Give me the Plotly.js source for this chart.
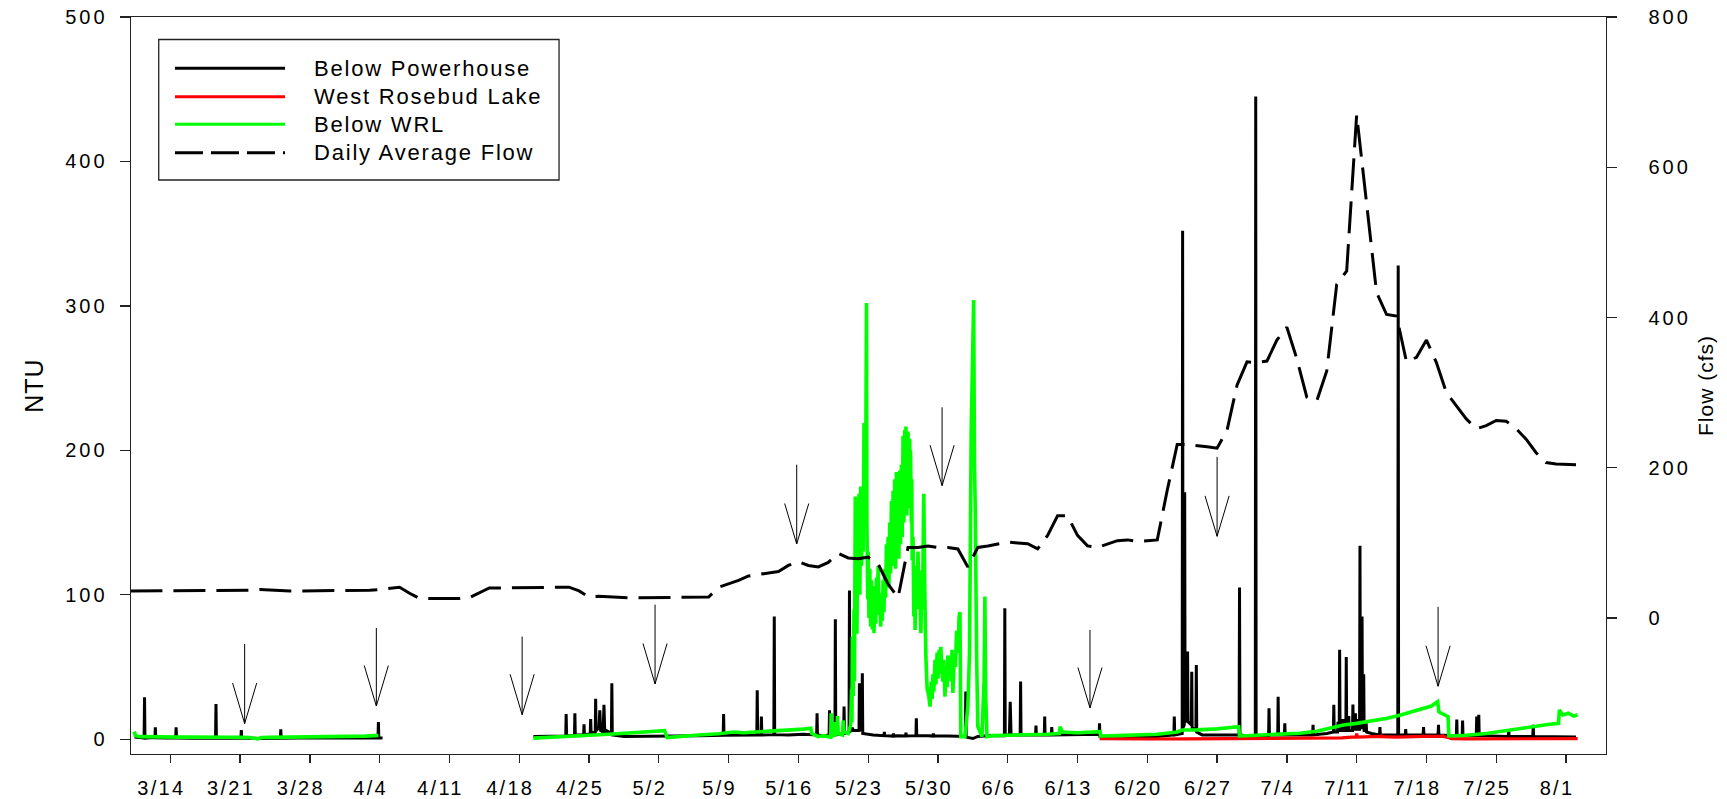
<!DOCTYPE html>
<html><head><meta charset="utf-8">
<script src="https://cdn.plot.ly/plotly-3.0.1.min.js"></script>
<style>
html,body{margin:0;padding:0;background:#fff;}
#chart{width:1727px;height:799px;}
.xtick text{letter-spacing:2.3px;}
.ytick text,.y2tick text{letter-spacing:3px;}
.annotation-text{letter-spacing:1.8px;}
.g-ytitle text,.g-y2title text{letter-spacing:1px;}
</style></head><body><div id="chart"></div>
<script>
const YEAR = '2005';

// Below Powerhouse turbidity (NTU)  [MM-DD HH, value]
const belowPowerhouse = [
["03-10 10",1.5],["03-11 00",0.8],["03-11 09",0.8],["03-11 10",29],["03-11 11",0.8],["03-12 00",1.0],["03-12 11",1.0],["03-12 12",8.3],["03-12 13",1.0],
["03-13 12",0.8],["03-14 13",0.8],["03-14 14",8.3],["03-14 15",0.8],["03-16 00",0.7],["03-17 12",0.9],["03-18 13",0.8],["03-18 14",24.4],["03-18 15",0.8],
["03-20 00",0.7],["03-21 02",0.8],["03-21 03",6.4],["03-21 04",0.8],["03-23 00",0.6],["03-25 01",0.7],["03-25 02",6.9],["03-25 03",0.7],["03-27 00",0.8],
["03-29 00",0.9],["03-31 00",0.8],["04-02 00",0.9],["04-03 20",1.0],["04-03 21",12],["04-03 22",1.0],["04-04 07",0.8],["04-10 00",null],
["04-19 10",2],["04-20 12",2.2],["04-21 12",2],["04-22 16",2.2],["04-22 17",17.5],["04-22 18",2.5],["04-23 13",2.5],["04-23 14",18],["04-23 15",3],
["04-24 11",3],["04-24 12",10.4],["04-24 13",3],["04-25 03",4],["04-25 04",14],["04-25 05",5],["04-25 15",4],["04-25 16",28],["04-25 17",6],["04-26 00",8],
["04-26 02",20],["04-26 04",6],["04-26 10",5],["04-26 12",23.8],["04-26 14",4],["04-26 18",6],["04-27 06",4],["04-27 07",38.8],["04-27 08",3],["04-28 12",2],
["04-30 00",2],["05-02 00",2.2],["05-04 00",2],["05-06 00",2.5],["05-08 11",2.8],["05-08 12",17.5],["05-08 13",2.8],["05-10 00",3],["05-11 20",3],["05-11 21",34],
["05-11 22",3],["05-12 06",3],["05-12 07",15.7],["05-12 08",3],["05-13 13",3.2],["05-13 14",85],["05-13 15",3.2],["05-15 00",3],["05-16 12",3.5],["05-17 20",3],
["05-17 21",18],["05-17 22",3],["05-18 12",2.5],["05-19 02",3],["05-19 03",20],["05-19 04",3],["05-19 16",3],["05-19 17",83],["05-19 18",3],["05-20 13",4],
["05-20 14",22.6],["05-20 15",4],["05-21 02",5],["05-21 03",103],["05-21 04",5],["05-21 10",8],["05-21 12",6],["05-22 02",6],["05-22 03",38.8],["05-22 05",8],
["05-22 09",6],["05-22 10",45.7],["05-22 11",4],["05-23 12",3],["05-24 14",2.5],["05-24 15",5],["05-24 16",2.5],["05-25 12",2.2],["05-25 13",4],["05-25 14",2.2],
["05-26 00",2.5],["05-26 18",2.3],["05-26 19",4.5],["05-26 20",2.3],["05-27 19",2.5],["05-27 20",14.5],["05-27 21",2.5],["05-29 00",2.5],["05-29 12",2.2],["05-29 13",4],
["05-29 14",2.2],["05-31 00",2.2],["06-01 18",2],["06-01 19",33],["06-01 20",1.5],["06-02 12",0.5],["06-03 00",2],["06-04 00",2.5],["06-05 16",2.5],
["06-05 17",90.7],["06-05 18",3],["06-06 04",3],["06-06 06",26],["06-06 08",3],["06-07 06",3],["06-07 07",40],["06-07 08",3],["06-08 19",3],["06-08 20",9.4],
["06-08 21",3],["06-09 16",3],["06-09 17",15.7],["06-09 18",3],["06-10 09",3],["06-10 10",8.5],["06-10 11",3],["06-12 00",3],["06-14 00",3.2],["06-15 04",3.5],
["06-15 05",11],["06-15 06",2],["06-17 00",1.5],["06-19 00",1.5],["06-21 00",2],["06-22 16",3],["06-22 17",15.7],["06-22 18",3],["06-23 12",4],["06-23 13",352],
["06-23 14",8],["06-23 17",10],["06-23 18",171],["06-23 19",12],["06-24 00",14],["06-24 01",60.7],["06-24 02",12],["06-24 10",10],["06-24 11",46.8],["06-24 12",8],
["06-24 21",6],["06-24 22",51.4],["06-24 23",5],["06-25 12",3],["06-27 00",3],["06-29 05",3],["06-29 06",105],["06-29 07",3],["06-30 00",2.5],["06-30 20",2.5],
["06-30 21",445],["06-30 22",2.5],["07-01 12",2.5],["07-02 04",2.5],["07-02 05",21.5],["07-02 06",3],["07-03 02",3],["07-03 03",29.5],["07-03 04",3],["07-03 18",3],
["07-03 19",11],["07-03 20",3],["07-05 00",3],["07-06 14",3],["07-06 15",10],["07-06 16",3],["07-08 00",4],["07-08 16",5],["07-08 17",23.8],["07-08 18",5],
["07-09 02",5],["07-09 03",12],["07-09 04",6],["07-09 06",6],["07-09 07",62],["07-09 08",6],["07-09 14",6],["07-09 15",14],["07-09 16",6],["07-09 22",6],["07-09 23",57],
["07-10 00",6],["07-10 04",6],["07-10 05",16],["07-10 06",6],["07-10 14",6],["07-10 15",24],["07-10 16",7],["07-10 20",7],["07-10 21",18],["07-10 22",7],
["07-11 03",7],["07-11 04",14],["07-11 05",7],["07-11 07",7],["07-11 08",134],["07-11 09",8],["07-11 12",8],["07-11 13",85],["07-11 14",8],["07-11 16",8],
["07-11 17",45],["07-11 18",6],["07-11 22",6],["07-11 23",11],["07-12 00",5],["07-12 12",4],["07-13 07",3],["07-13 08",8.5],["07-13 09",3],["07-14 12",3],
["07-15 03",3],["07-15 04",328],["07-15 05",3],["07-15 21",3],["07-15 22",7],["07-15 23",3],["07-17 16",3],
["07-17 17",8.5],["07-17 18",3],["07-19 04",3],["07-19 05",10],["07-19 06",3],["07-20 12",2.5],["07-21 00",2.5],["07-21 01",13.6],["07-21 02",2.5],["07-21 14",2.5],
["07-21 15",13],["07-21 16",2.5],["07-23 00",2.5],["07-23 01",15.7],["07-23 02",2.5],["07-23 05",2.5],["07-23 06",17],["07-23 07",2.5],["07-25 00",2],["07-26 05",2],
["07-26 06",7],["07-26 07",2],["07-28 16",2],["07-28 17",10],["07-28 18",2],["07-30 00",2],["08-01 00",1.5],["08-02 00",1.5]
];

// West Rosebud Lake turbidity (NTU)
const westRosebudLake = [
["06-15 05",0.5],["06-17 00",0.3],["06-20 00",0.2],["06-24 00",0.3],["06-27 00",0.4],["06-30 00",0.3],["07-03 00",0.4],["07-06 00",0.5],["07-08 00",0.8],
["07-09 12",1.0],["07-10 12",1.5],["07-10 23",1.5],["07-11 00",4],["07-11 02",1.5],["07-12 12",1.8],["07-13 11",1.8],["07-13 12",3],["07-13 13",1.8],
["07-15 00",1.5],["07-16 00",1.8],["07-17 14",2],["07-17 15",3],["07-17 16",2],["07-18 12",2],["07-19 14",2.2],["07-19 15",3.2],["07-19 16",2],
["07-20 06",1.0],["07-20 12",0.5],["07-22 00",0.3],["07-25 00",0.3],["07-28 00",0.4],["07-31 00",0.4],["08-02 04",0.4]
];

// Below WRL turbidity (NTU)
const belowWRL = [
["03-10 09",5.3],["03-10 12",2.5],["03-11 00",1.8],["03-12 00",1.6],["03-13 00",1.5],["03-14 00",1.6],["03-15 00",1.5],["03-16 00",1.6],["03-17 00",1.4],
["03-18 00",1.5],["03-19 00",1.5],["03-20 00",1.4],["03-21 00",1.3],["03-22 00",1.2],["03-22 18",0.3],["03-23 04",1.2],["03-24 00",1.3],["03-26 00",1.4],
["03-28 00",1.6],["03-30 00",1.8],["04-01 00",2.0],["04-02 12",2.2],["04-03 12",2.5],["04-03 21",2.6],["04-10 00",null],
["04-19 10",0.8],["04-21 00",1.2],["04-23 00",2.0],["04-25 00",2.8],["04-27 00",3.5],["04-29 00",4.2],["05-01 00",5.0],["05-02 14",6.0],
["05-02 20",1.2],["05-04 00",2.0],["05-06 00",3.0],["05-08 00",3.8],["05-09 12",5.0],["05-10 12",4.5],["05-12 00",5.0],["05-14 00",6.0],["05-15 12",6.5],
["05-16 12",7.0],["05-17 06",7.6],["05-17 08",4.1],["05-18 00",1.8],["05-18 12",2.5],["05-19 06",1.5],["05-19 07",18],["05-19 09",3],["05-19 14",2],
["05-19 15",12],["05-19 17",4],["05-19 21",3],["05-19 22",16],["05-20 00",4],["05-20 10",3],["05-20 12",13],["05-20 14",5],["05-21 00",4],
["05-21 06",10],["05-21 08",35],["05-21 09",12],["05-21 10",71],["05-21 12",30],["05-21 14",90],["05-21 15",40],["05-21 17",168],["05-21 19",95],["05-21 21",73],
["05-21 23",160],["05-22 01",110],["05-22 02",170],["05-22 04",100],["05-22 06",175],["05-22 08",120],["05-22 10",165],["05-22 12",130],["05-22 14",219],
["05-22 16",150],["05-22 18",180],["05-22 20",302],["05-22 21",150],["05-22 23",97],["05-23 00",130],["05-23 02",84],["05-23 04",118],["05-23 06",78],["05-23 08",110],
["05-23 10",76],["05-23 12",106],["05-23 14",73.5],["05-23 16",95],["05-23 18",80],["05-23 20",112],["05-23 22",86],["05-24 00",120],["05-24 02",92],
["05-24 04",101],["05-24 06",78],["05-24 08",95],["05-24 10",82],["05-24 12",110],["05-24 14",88],["05-24 16",118],["05-24 18",98],["05-24 20",135],
["05-24 22",110],["05-25 00",140],["05-25 02",105],["05-25 04",150],["05-25 06",115],["05-25 08",165],["05-25 10",120],["05-25 12",172],["05-25 14",125],
["05-25 16",180],["05-25 18",118],["05-25 20",185],["05-25 22",130],["05-26 00",182],["05-26 02",125],["05-26 04",186],["05-26 06",135],["05-26 08",190],
["05-26 10",140],["05-26 12",210],["05-26 14",150],["05-26 16",214],["05-26 18",160],["05-26 19",216.5],["05-26 21",155],["05-27 00",213],["05-27 02",160],
["05-27 04",208],["05-27 05",175],["05-27 06",200],["05-27 08",150],["05-27 09",180],["05-27 10",124],["05-27 12",140],["05-27 14",85],["05-27 16",110],
["05-27 17",75.7],["05-27 19",120],["05-27 21",90],["05-28 00",130],["05-28 02",95],["05-28 04",117],["05-28 06",80],["05-28 07",73.4],["05-28 09",110],
["05-28 11",90],["05-28 13",150],["05-28 14",170],["05-28 16",110],["05-28 18",70],["05-28 19",57],["05-28 22",35],["05-29 02",30],["05-29 05",22.6],
["05-29 08",40],["05-29 10",28],["05-29 12",45],["05-29 14",33],["05-29 17",55],["05-29 19",38],["05-29 22",60],["05-30 00",42],["05-30 03",62],
["05-30 05",45],["05-30 07",64],["05-30 09",48],["05-30 12",40],["05-30 14",55],["05-30 17",29.5],["05-30 19",48],["05-30 22",36],["05-31 00",58],
["05-31 03",45],["05-31 05",57],["05-31 08",40],["05-31 10",62],["05-31 12",32],["05-31 15",55],["05-31 18",50],["05-31 21",75],["06-01 00",60],
["06-01 03",85],["06-01 05",88],["06-01 06",50],["06-01 07",1.8],["06-01 12",1.8],["06-01 17",1.8],["06-02 00",22.6],["06-02 04",60],["06-02 08",212],
["06-02 14",304],["06-02 16",190],["06-02 18",156],["06-02 21",60],["06-03 00",8.7],["06-03 10",1.8],["06-03 15",40],["06-03 17",98.8],["06-03 19",30],
["06-03 22",1.8],["06-04 12",2.5],["06-06 00",2.8],["06-08 00",3.0],["06-10 00",3.5],["06-11 04",4],["06-11 06",8.7],["06-11 12",5],["06-13 00",4.5],
["06-15 06",5.3],["06-15 08",2.3],["06-17 00",2.5],["06-19 00",3.0],["06-21 00",3.5],["06-23 00",5],["06-23 12",6.4],["06-25 00",6.5],["06-27 00",7.2],
["06-29 04",8.7],["06-29 06",2.3],["07-01 00",2.8],["07-03 00",3.5],["07-05 06",4.2],["07-07 00",5.5],["07-09 16",9.9],["07-11 00",11],["07-12 12",12.5],
["07-14 02",14.5],["07-15 12",17],["07-17 00",20],["07-18 12",23],["07-19 03",26],["07-19 06",19],["07-19 12",18],["07-20 04",15.7],["07-20 06",2.3],
["07-22 00",2.8],["07-24 00",4],["07-26 06",6.4],["07-28 16",8.7],["07-30 00",10],["07-31 06",11],["07-31 08",20.3],["07-31 16",16.8],["08-01 06",18],
["08-01 18",16],["08-02 04",17]
];

// Daily average flow (cfs)
const dailyFlow = [
["03-10",36],["03-11",36],["03-12",36],["03-13",36],["03-14",36],["03-15",36],["03-16",36],["03-17",36],["03-18",36],["03-19",36],["03-20",36],
["03-21",36],["03-22",37],["03-23",38],["03-24",37],["03-25",36],["03-26",36],["03-27",36],["03-28",36],["03-29",37],["03-30",37],["03-31",37],
["04-01",37],["04-02",37],["04-03",37],["04-04",38],["04-05",39],["04-06",41],["04-07",33],["04-08",26],["04-09",26],["04-10",26],["04-11",26],
["04-12",26],["04-13",27],["04-14",34],["04-15",40],["04-16",40],["04-17",40],["04-18",40],["04-19",41],["04-20",41],["04-21",41],["04-22",41],
["04-23",41],["04-24",36],["04-25",28],["04-26",29],["04-27",28],["04-28",27],["04-29",27],["04-30",27],["05-01",27],["05-02",27],["05-03",27],
["05-04",27],["05-05",27],["05-06",27],["05-07",28],["05-08",41],["05-09",45],["05-10",50],["05-11",56],["05-12",58],["05-13",60],["05-14",62],
["05-15",70],["05-16",75],["05-17",70],["05-18",68],["05-19",74],["05-20",86],["05-21",80],["05-22",79],["05-23",81],["05-24",72],["05-25",45],
["05-26",27],["05-27",94],["05-28",94],["05-29",96],["05-30",94],["05-31",94],["06-01",92],["06-02",68],["06-03",94],["06-04",96],["06-05",98],
["06-06",101],["06-07",100],["06-08",99],["06-09",92],["06-10",110],["06-11",136],["06-12",136],["06-13",110],["06-14",96],["06-15",94],["06-16",98],
["06-17",103],["06-18",104],["06-19",102],["06-20",103],["06-21",104],["06-22",170],["06-23",231],["06-24",231],["06-25",230],["06-26",228],
["06-27",226],["06-28",250],["06-29",310],["06-30",341],["07-01",340],["07-02",342],["07-03",370],["07-04",387],["07-05",345],["07-06",294],
["07-07",289],["07-08",329],["07-09",444],["07-10",462],["07-11",670],["07-12",551],["07-13",433],["07-14",404],["07-15",402],["07-16",341],
["07-17",347],["07-18",370],["07-19",340],["07-20",300],["07-21",283],["07-22",265],["07-23",252],["07-24",256],["07-25",263],["07-26",262],
["07-27",252],["07-28",238],["07-29",220],["07-30",207],["07-31",205],["08-01",205],["08-02",204]
];

// sampling-event arrows: date, tip NTU, tail NTU
const arrowDates = ["03-21 11","04-03 16","04-18 07","05-01 15","05-15 20","05-30 10","06-14 06","06-27 00","07-19 04"];
const arrowTip  = [10.9, 23.0, 17.0, 38.3, 135.2, 175.6, 21.7, 140.5, 36.7];
const arrowTail = [66.0, 77.0, 71.1, 93.2, 190.1, 229.8, 75.7, 195.5, 91.7];

const xTickStart = "03-14";
const legendNames = ["Below Powerhouse","West Rosebud Lake","Below WRL","Daily Average Flow"];

const toT = s => YEAR + '-' + s + ':00';
const col = (arr, f) => arr.map(f);

const FONT = '"Liberation Sans", Arial, sans-serif';
const traces = [
  {x: col(belowPowerhouse, p=>toT(p[0])), y: col(belowPowerhouse, p=>p[1]), name: legendNames[0], type:'scatter', mode:'lines',
   line:{color:'#000000', width:3}, connectgaps:false, showlegend:false},
  {x: col(westRosebudLake, p=>toT(p[0])), y: col(westRosebudLake, p=>p[1]), name: legendNames[1], type:'scatter', mode:'lines',
   line:{color:'#ff0000', width:3.2}, connectgaps:false, showlegend:false},
  {x: col(belowWRL, p=>toT(p[0])), y: col(belowWRL, p=>p[1]), name: legendNames[2], type:'scatter', mode:'lines',
   line:{color:'#00ff00', width:3.6}, connectgaps:false, showlegend:false},
  {x: col(dailyFlow, p=>YEAR+'-'+p[0]), y: col(dailyFlow, p=>p[1]), name: legendNames[3], type:'scatter', mode:'lines', yaxis:'y2',
   line:{color:'#000000', width:3, dash:'32px,11px'}, showlegend:false}
];

const shapes = [];
const HOUR = 3600e3;
arrowDates.forEach((d, i) => {
  const t = Date.parse(YEAR + '-' + d.slice(0,5) + 'T' + d.slice(6) + ':00:00Z');
  const L = {color:'#000', width:1};
  shapes.push({type:'line', xref:'x', yref:'y', x0:t, x1:t, y0:arrowTail[i], y1:arrowTip[i], line:L});
  shapes.push({type:'line', xref:'x', yref:'y', x0:t-29*HOUR, x1:t, y0:arrowTip[i]+28, y1:arrowTip[i], line:L});
  shapes.push({type:'line', xref:'x', yref:'y', x0:t+29*HOUR, x1:t, y0:arrowTip[i]+28, y1:arrowTip[i], line:L});
});

// legend box
shapes.push({type:'rect', xref:'paper', yref:'paper', x0:0.0188, x1:0.2902, y0:0.7788, y1:0.9695, line:{color:'#222', width:1.3}, fillcolor:'rgba(255,255,255,0)'});
const legY = [0.9304, 0.8918, 0.8544, 0.8159];
const legStyle = [
  {color:'#000', width:3}, {color:'#ff0000', width:3}, {color:'#00ff00', width:3}, {color:'#000', width:3, dash:'28px,8px'}
];
const annotations = [];
legendNames.forEach((n, i) => {
  shapes.push({type:'line', xref:'paper', yref:'paper', x0:0.0298, x1:0.1044, y0:legY[i], y1:legY[i], line:legStyle[i]});
  annotations.push({xref:'paper', yref:'paper', x:0.1227, y:legY[i], xanchor:'left', yanchor:'middle', text:n, showarrow:false,
    font:{family:FONT, size:22, color:'#000'}});
});

const layout = {
  width:1727, height:799,
  margin:{l:131, r:121, t:17, b:45, pad:0},
  paper_bgcolor:'#fff', plot_bgcolor:'#fff',
  showlegend:false,
  font:{family:FONT, color:'#000'},
  xaxis:{type:'date', range:[YEAR+'-03-10 01:25', YEAR+'-08-05 00:15'],
    tick0: YEAR+'-'+xTickStart, dtick: 7*86400000, tickformat:'%-m/%-d',
    ticks:'outside', ticklen:8, tickwidth:1.3, tickcolor:'#222',
    showline:true, linecolor:'#222', linewidth:1.4, mirror:true,
    showgrid:false, zeroline:false, tickfont:{family:FONT, size:20, color:'#000'},
    ticklabelshift:-9, ticklabelstandoff:8},
  yaxis:{range:[-10.2, 500], tick0:0, dtick:100, ticks:'outside', ticklen:10, tickwidth:1.3, tickcolor:'#222',
    showline:true, linecolor:'#222', linewidth:1.4, showgrid:false, zeroline:false,
    tickfont:{family:FONT, size:20, color:'#000'}, ticklabelstandoff:8,
    title:{text:'NTU', font:{family:FONT, size:25, color:'#000'}, standoff:14}},
  yaxis2:{overlaying:'y', side:'right', range:[-181, 800], tick0:0, dtick:200, ticks:'outside', ticklen:10, tickwidth:1.3, tickcolor:'#222',
    showline:true, linecolor:'#222', linewidth:1.4, showgrid:false, zeroline:false,
    tickfont:{family:FONT, size:20, color:'#000'}, ticklabelstandoff:27,
    title:{text:'Flow (cfs)', font:{family:FONT, size:21, color:'#000'}, standoff:8}},
  shapes: shapes,
  annotations: annotations
};

Plotly.newPlot('chart', traces, layout, {displayModeBar:false, staticPlot:true});
</script></body></html>
